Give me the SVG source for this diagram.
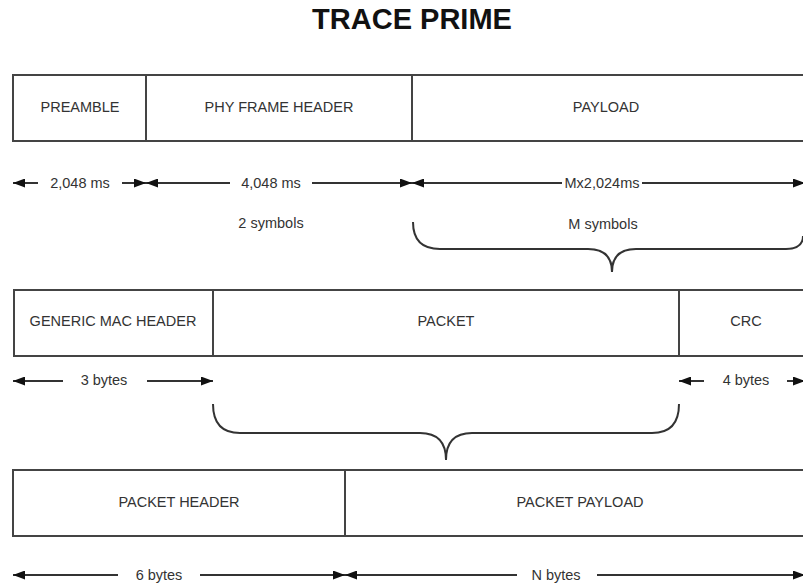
<svg xmlns="http://www.w3.org/2000/svg" width="803" height="585" viewBox="0 0 803 585">
  <defs>
    <marker id="arrow" viewBox="0 0 12 9" refX="12" refY="4.5" markerWidth="12" markerHeight="9" markerUnits="userSpaceOnUse" orient="auto">
      <path d="M0,0 L12,4.5 L0,9 Z" fill="#111"/>
    </marker>
    <style>
      .title { font-family: "Liberation Sans", Arial, sans-serif; font-size: 29px; font-weight: bold; fill: #111; text-anchor: middle; }
      .cell { fill: #fff; stroke: #444; stroke-width: 2; }
      .label { font-family: "Liberation Sans", Arial, sans-serif; font-size: 14.5px; fill: #333; text-anchor: middle; }
      .dim { fill: none; stroke: #333; stroke-width: 2; marker-end: url(#arrow); }
      .brace { fill: none; stroke: #333; stroke-width: 2; }
    </style>
  </defs>
  <rect width="803" height="585" fill="#fff"/>

  <text class="title" x="412" y="29">TRACE PRIME</text>

  <!-- PHY frame -->
  <g id="preamble">
    <rect class="cell" x="13" y="75" width="133" height="66"/>
    <text class="label" x="80" y="112">PREAMBLE</text>
  </g>
  <g id="phy-frame-header">
    <rect class="cell" x="146" y="75" width="266" height="66"/>
    <text class="label" x="279" y="112">PHY FRAME HEADER</text>
  </g>
  <g id="payload">
    <rect class="cell" x="412" y="75" width="396" height="66"/>
    <text class="label" x="606" y="112">PAYLOAD</text>
  </g>

  <!-- MAC frame -->
  <g id="generic-mac-header">
    <rect class="cell" x="14" y="290" width="199" height="66"/>
    <text class="label" x="113" y="326">GENERIC MAC HEADER</text>
  </g>
  <g id="packet">
    <rect class="cell" x="213" y="290" width="466" height="66"/>
    <text class="label" x="446" y="326">PACKET</text>
  </g>
  <g id="crc">
    <rect class="cell" x="679" y="290" width="134" height="66"/>
    <text class="label" x="746" y="326">CRC</text>
  </g>

  <!-- Packet -->
  <g id="packet-header">
    <rect class="cell" x="13" y="470" width="332" height="66"/>
    <text class="label" x="179" y="507">PACKET HEADER</text>
  </g>
  <g id="packet-payload">
    <rect class="cell" x="345" y="470" width="470" height="66"/>
    <text class="label" x="580" y="507">PACKET PAYLOAD</text>
  </g>

  <g id="connectors">
    <!-- durations of the PHY frame -->
    <path class="dim" d="M38,183 L13,183"/>
    <path class="dim" d="M122,183 L146,183"/>
    <text class="label" x="80" y="188">2,048 ms</text>
    <path class="dim" d="M230,183 L146,183"/>
    <path class="dim" d="M312,183 L412,183"/>
    <text class="label" x="271" y="188">4,048 ms</text>
    <text class="label" x="271" y="228">2 symbols</text>
    <path class="dim" d="M562,183 L412,183"/>
    <path class="dim" d="M642,183 L805,183"/>
    <text class="label" x="602" y="188">Mx2,024ms</text>
    <text class="label" x="603" y="229">M symbols</text>
    <path class="brace" d="M413,222 Q413,249 440,249 L588,249 Q612,249 612,272 Q612,249 636,249 L786,249 Q803,249 803,236"/>

    <!-- sizes of the MAC frame -->
    <path class="dim" d="M63,381 L13,381"/>
    <path class="dim" d="M147,381 L213,381"/>
    <text class="label" x="104" y="385">3 bytes</text>
    <path class="dim" d="M704,381 L679,381"/>
    <path class="dim" d="M787,381 L805,381"/>
    <text class="label" x="746" y="385">4 bytes</text>
    <path class="brace" d="M213,404 Q213,433 240,433 L420,433 Q446,433 446,460 Q446,433 472,433 L652,433 Q679,433 679,404"/>

    <!-- sizes of the packet -->
    <path class="dim" d="M118,575 L13,575"/>
    <path class="dim" d="M200,575 L345,575"/>
    <text class="label" x="159" y="580">6 bytes</text>
    <path class="dim" d="M517,575 L345,575"/>
    <path class="dim" d="M597,575 L805,575"/>
    <text class="label" x="556" y="580">N bytes</text>
  </g>
</svg>
